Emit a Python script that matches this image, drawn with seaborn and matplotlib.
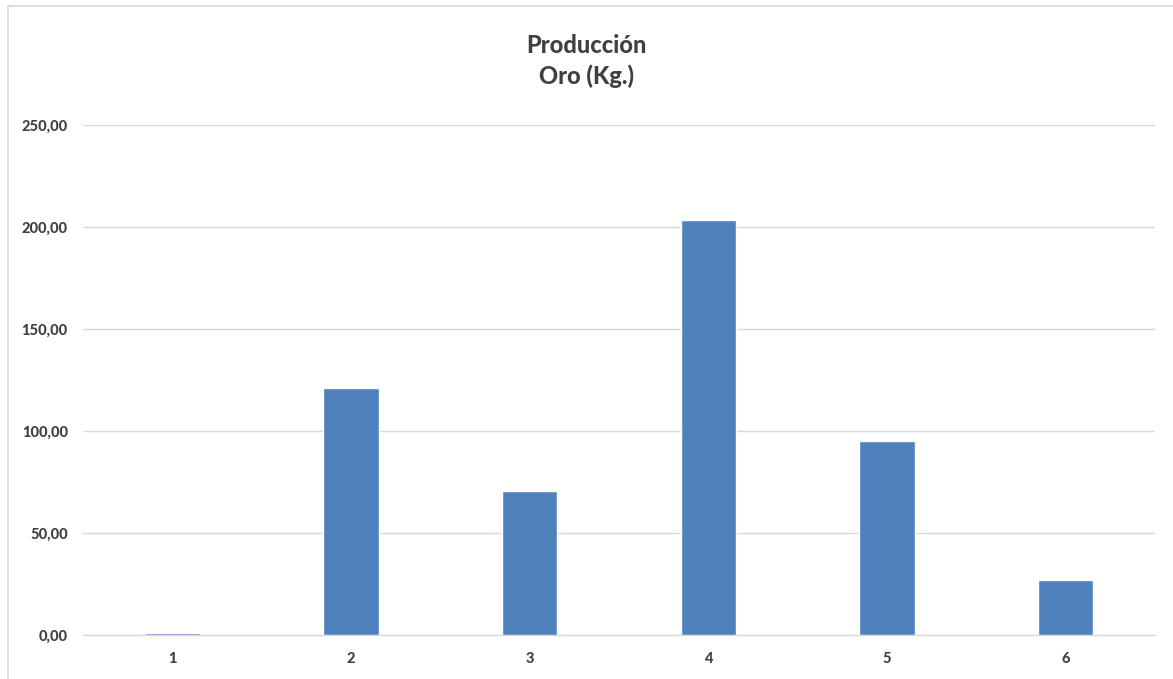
"""Gold production bar chart."""

import matplotlib
matplotlib.use("Agg")
import matplotlib.pyplot as plt
import pandas as pd
import seaborn as sns
from matplotlib.patches import Rectangle
from matplotlib.ticker import FuncFormatter

categories = ["1", "2", "3", "4", "5", "6"]
oro_kg = [0.9, 121.0, 70.5, 203.2, 95.0, 27.0]
y_ticks = [0, 50, 100, 150, 200, 250]

df = pd.DataFrame({"periodo": categories, "oro": oro_kg})

sns.set_theme(style="white")
plt.rcParams["font.family"] = ["Lato", "DejaVu Sans"]

fig = plt.figure(figsize=(11.73, 6.79), dpi=100)
ax = fig.add_axes([83 / 1173, 44 / 679, 1072 / 1173, 510 / 679])

sns.barplot(data=df, x="periodo", y="oro", color="#4f81bd", width=0.31,
            saturation=1, ax=ax, zorder=3)

ax.set_ylim(0, 250)
ax.set_yticks(y_ticks)
ax.yaxis.set_major_formatter(FuncFormatter(lambda v, _: f"{v:.2f}".replace(".", ",")))
ax.grid(axis="y", color="#d9d9d9", linewidth=1, zorder=0)
ax.set_axisbelow(True)
for side in ["top", "right", "left"]:
    ax.spines[side].set_visible(False)
ax.spines["bottom"].set_color("#d9d9d9")
ax.spines["bottom"].set_linewidth(1)
ax.tick_params(axis="both", length=0, labelsize=10.5, labelcolor="#404040")
ax.tick_params(axis="y", pad=11)
ax.tick_params(axis="x", pad=12)
for lbl in ax.get_xticklabels() + ax.get_yticklabels():
    lbl.set_fontweight(900)
ax.set_xlabel("")
ax.set_ylabel("")

fig.text(0.5, 1 - 61 / 679, "Producción\nOro (Kg.)", ha="center", va="center",
         fontsize=17, fontweight=900, color="#404040", linespacing=1.4)

fig.patches.append(Rectangle((7.5 / 1173, -0.05), 1.2, 1 - 5.5 / 679 + 0.05,
                             transform=fig.transFigure, fill=False,
                             edgecolor="#d9d9d9", linewidth=1.2))

fig.savefig("out.png", dpi=100)
